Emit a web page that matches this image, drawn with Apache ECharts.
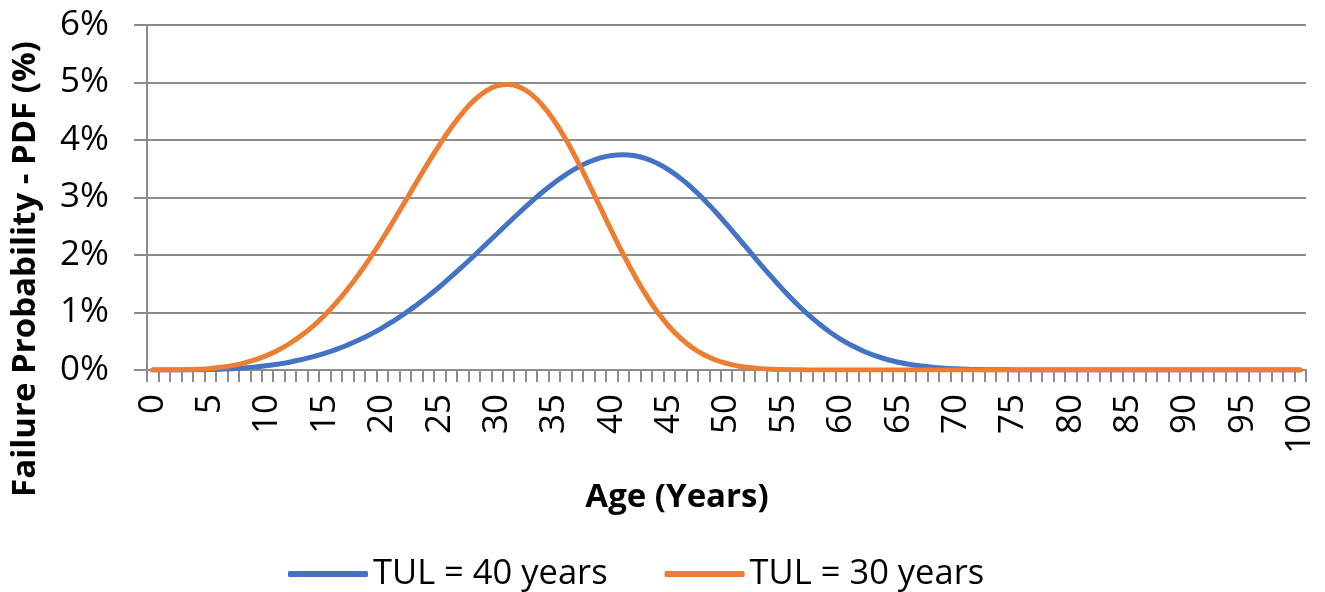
<!DOCTYPE html>
<html>
<head>
<meta charset="utf-8">
<script src="https://cdn.jsdelivr.net/npm/echarts@6/dist/echarts.min.js"></script>
<style>
html,body{margin:0;padding:0;background:#fff;}
#chart{width:1325px;height:592px;}
</style>
</head>
<body>
<div id="chart"></div>
<script>
const ages = [0,1,2,3,4,5,6,7,8,9,10,11,12,13,14,15,16,17,18,19,20,21,22,23,24,25,26,27,28,29,30,31,32,33,34,35,36,37,38,39,40,41,42,43,44,45,46,47,48,49,50,51,52,53,54,55,56,57,58,59,60,61,62,63,64,65,66,67,68,69,70,71,72,73,74,75,76,77,78,79,80,81,82,83,84,85,86,87,88,89,90,91,92,93,94,95,96,97,98,99,100];

// Failure probability PDF (%) — TUL = 40 years
const tul40 = [0,0,0.0004,0.0015,0.0038,0.0078,0.0143,0.0238,0.037,0.0545,
  0.0772,0.1055,0.140,0.183,0.233,0.292,0.359,0.437,0.525,0.624,
  0.734,0.856,0.988,1.132,1.285,1.448,1.622,1.802,1.987,2.178,
  2.369,2.560,2.748,2.928,3.100,3.257,3.399,3.520,3.617,3.689,
  3.732,3.745,3.726,3.675,3.590,3.476,3.333,3.164,2.971,2.760,
  2.536,2.302,2.066,1.830,1.601,1.381,1.175,0.986,0.815,0.662,
  0.530,0.418,0.323,0.246,0.183,0.134,0.096,0.068,0.047,0.032,
  0.021,0.013,0.008,0.005,0.003,0.002,0.001,0,0,0,
  0,0,0,0,0,0,0,0,0,0,
  0,0,0,0,0,0,0,0,0,0,0];

// Failure probability PDF (%) — TUL = 30 years
const tul30 = [0,0.0001,0.0013,0.0049,0.0126,0.0264,0.0482,0.0801,0.124,0.183,
  0.259,0.353,0.469,0.607,0.769,0.958,1.172,1.412,1.678,1.966,
  2.274,2.599,2.933,3.270,3.602,3.920,4.214,4.473,4.688,4.846,
  4.942,4.966,4.917,4.793,4.595,4.330,4.009,3.641,3.243,2.827,
  2.413,2.013,1.639,1.301,1.006,0.757,0.553,0.392,0.269,0.179,
  0.115,0.071,0.042,0.024,0.013,0.007,0.0036,0.0017,0.0008,0.0003,
  0.0001,0,0,0,0,0,0,0,0,0,
  0,0,0,0,0,0,0,0,0,0,
  0,0,0,0,0,0,0,0,0,0,
  0,0,0,0,0,0,0,0,0,0,0];

const seriesNames = ['TUL = 40 years', 'TUL = 30 years'];
const colors = ['#4472C4', '#ED7D31'];
const yTitle = 'Failure Probability - PDF (%)';
const xTitle = 'Age (Years)';

const FONT = "'Open Sans', 'Noto Sans', sans-serif";
const GRAY = '#8c8c8c';

const chart = echarts.init(document.getElementById('chart'), null, {renderer: 'canvas'});
chart.setOption({
  animation: false,
  backgroundColor: '#fff',
  grid: {left: 147, right: 19, top: 25, bottom: 222, outerBoundsMode: 'none', containLabel: false},
  xAxis: {
    type: 'category',
    data: ages.map(String),
    boundaryGap: true,
    axisLine: {show: true, lineStyle: {color: GRAY, width: 2}},
    axisTick: {show: true, interval: 0, length: 12, lineStyle: {color: GRAY, width: 2}},
    axisLabel: {interval: 4, rotate: 90, margin: 24, fontSize: 35, fontFamily: FONT, color: '#000'},
    splitLine: {show: false}
  },
  yAxis: {
    type: 'value',
    min: 0, max: 6, interval: 1,
    axisLine: {show: true, lineStyle: {color: GRAY, width: 2}},
    axisTick: {show: true, length: 13, lineStyle: {color: GRAY, width: 2}},
    axisLabel: {formatter: '{value}%', margin: 38, fontSize: 35, fontFamily: FONT, color: '#000'},
    splitLine: {show: true, lineStyle: {color: GRAY, width: 2}}
  },
  legend: {
    left: 283, top: 549,
    itemWidth: 80, itemHeight: 6, itemGap: 57,
    icon: 'roundRect',
    data: seriesNames,
    textStyle: {fontSize: 34.5, fontFamily: FONT, color: '#000', lineHeight: 40}
  },
  graphic: [
    {type: 'text', x: 26, y: 269, rotation: Math.PI / 2,
     style: {text: yTitle, align: 'center', verticalAlign: 'middle', font: "bold 33px 'Open Sans', sans-serif", fill: '#000'}},
    {type: 'text', x: 677, y: 498,
     style: {text: xTitle, align: 'center', verticalAlign: 'middle', font: "bold 33px 'Open Sans', sans-serif", fill: '#000'}}
  ],
  series: [
    {name: seriesNames[0], type: 'line', data: tul40, smooth: true, symbol: 'none', color: colors[0],
     lineStyle: {width: 5, color: colors[0], cap: 'round', join: 'round'}},
    {name: seriesNames[1], type: 'line', data: tul30, smooth: true, symbol: 'none', color: colors[1],
     lineStyle: {width: 5, color: colors[1], cap: 'round', join: 'round'}}
  ]
});
</script>
</body>
</html>
